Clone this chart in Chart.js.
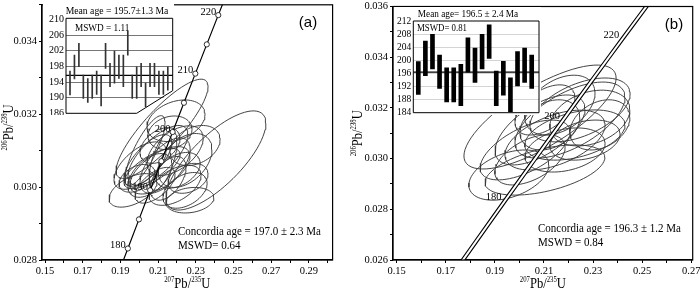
<!DOCTYPE html>
<html>
<head>
<meta charset="utf-8">
<script src="https://cdn.jsdelivr.net/npm/chart.js@4.4.1/dist/chart.umd.min.js"></script>
<style>
  body { margin: 0; background: #fff; }
  #wrap { position: relative; width: 700px; height: 290px; overflow: hidden; }
  canvas { position: absolute; }
</style>
</head>
<body>
<div id="wrap">
  <canvas id="diagramA" width="350" height="290" style="left:0;top:0"></canvas>
  <canvas id="diagramB" width="350" height="290" style="left:350px;top:0"></canvas>
  <canvas id="insetA" width="131" height="111"
    style="left:43px;top:4px;clip-path:polygon(0 0,131px 0,131px 87px,93px 111px,0 111px)"></canvas>
  <canvas id="insetB" width="147" height="108" style="left:394px;top:7px"></canvas>
</div>
<script>
const SERIF = "'Liberation Serif', 'Times New Roman', serif";
const SANS = "'Liberation Sans', Arial, sans-serif";

// concordia curve: age (Ma), 207Pb/235U, 206Pb/238U
const concordiaAges = [165, 170, 175, 180, 185, 190, 195, 200, 205, 210, 215, 220, 225, 230];
const concordia207 = [0.17645, 0.18226, 0.18809, 0.19396, 0.19985, 0.20577, 0.21173,
                      0.21771, 0.22372, 0.22976, 0.23583, 0.24193, 0.24806, 0.25422];
const concordia206 = [0.025926, 0.026722, 0.027519, 0.028316, 0.029114, 0.029913, 0.030711,
                      0.031511, 0.032312, 0.033112, 0.033914, 0.034717, 0.035519, 0.036323];
const markerAgesA = [180, 185, 190, 195, 200, 205, 210, 215, 220];
const labelAgesA = [180, 190, 200, 210, 220];
const labelAgesB = [180, 200, 220];

// axes
const xTicksA = [0.15, 0.16, 0.17, 0.18, 0.19, 0.20, 0.21, 0.22, 0.23, 0.24, 0.25, 0.26, 0.27, 0.28, 0.29, 0.30];
const xLabelsA = [0.15, 0.17, 0.19, 0.21, 0.23, 0.25, 0.27, 0.29];
const yTicksA = [0.028, 0.029, 0.030, 0.031, 0.032, 0.033, 0.034, 0.035];
const yLabelsA = [0.028, 0.030, 0.032, 0.034];
const xTicksB = [0.15, 0.16, 0.17, 0.18, 0.19, 0.20, 0.21, 0.22, 0.23, 0.24, 0.25, 0.26, 0.27];
const xLabelsB = [0.15, 0.17, 0.19, 0.21, 0.23, 0.25, 0.27];
const yTicksB = [0.026, 0.027, 0.028, 0.029, 0.030, 0.031, 0.032, 0.033, 0.034, 0.035, 0.036];
const yLabelsB = [0.026, 0.028, 0.030, 0.032, 0.034, 0.036];
const xTitle = [['207', true], ['Pb/', false], ['235', true], ['U', false]];
const yTitle = [['206', true], ['Pb/', false], ['238', true], ['U', false]];

// error ellipses (a): centre, 2 sigma half-widths, error correlation
const ellAx = [0.2121, 0.2407, 0.2195, 0.2163, 0.1967, 0.2269, 0.2004, 0.2099, 0.2137, 0.2057, 0.2190,
               0.2243, 0.2084, 0.2153, 0.2110, 0.2296, 0.2031, 0.2206, 0.2068, 0.2126, 0.2259, 0.1988,
               0.2190, 0.2110, 0.2243, 0.2046];
const ellAy = [0.03160, 0.03073, 0.03182, 0.03149, 0.02991, 0.02964, 0.03059, 0.03087, 0.03059, 0.03032, 0.03100,
               0.03073, 0.03005, 0.03024, 0.03114, 0.03114, 0.03100, 0.03046, 0.03051, 0.03073, 0.03024, 0.03024,
               0.03005, 0.03046, 0.02991, 0.03073];
const ellAsx = [0.0244, 0.0265, 0.0154, 0.0117, 0.0127, 0.0127, 0.0138, 0.0159, 0.0133, 0.0117, 0.0149,
                0.0143, 0.0106, 0.0095, 0.0106, 0.0133, 0.0106, 0.0117, 0.0149, 0.0074, 0.0106, 0.0095,
                0.0138, 0.0159, 0.0117, 0.0127];
const ellAsy = [0.00136, 0.00136, 0.00057, 0.00046, 0.00046, 0.00035, 0.00065, 0.00082, 0.00076, 0.00060, 0.00068,
                0.00074, 0.00049, 0.00060, 0.00049, 0.00055, 0.00096, 0.00049, 0.00055, 0.00082, 0.00041, 0.00038,
                0.00055, 0.00065, 0.00049, 0.00071];
const ellArho = [0.85, 0.75, 0.3, 0.2, 0.5, 0.2, 0.6, 0.7, 0.6, 0.5, 0.5,
                 0.4, 0.6, 0.5, 0.4, 0.3, 0.8, 0.4, 0.7, 0.6, 0.3, 0.4,
                 0.5, 0.6, 0.4, 0.7];

// error ellipses (b)
const ellBx = [0.2084, 0.1957, 0.2104, 0.2247, 0.2206, 0.2287, 0.2145, 0.2084, 0.2165,
               0.2023, 0.2226, 0.2124, 0.2328, 0.2043, 0.2186, 0.2104, 0.2267];
const ellBy = [0.03164, 0.02935, 0.02955, 0.03192, 0.03152, 0.03160, 0.03073, 0.03113, 0.03211,
               0.03034, 0.03093, 0.03133, 0.03133, 0.02995, 0.03034, 0.03192, 0.03073];
const ellBsx = [0.0310, 0.0163, 0.0244, 0.0204, 0.0224, 0.0163, 0.0204, 0.0183, 0.0143,
                0.0183, 0.0204, 0.0122, 0.0122, 0.0143, 0.0163, 0.0122, 0.0143];
const ellBsy = [0.00205, 0.00099, 0.00099, 0.00126, 0.00150, 0.00110, 0.00118, 0.00138, 0.00118,
                0.00118, 0.00099, 0.00099, 0.00099, 0.00099, 0.00087, 0.00099, 0.00079];
const ellBrho = [0.75, 0.4, 0.5, 0.5, 0.6, 0.3, 0.5, 0.6, 0.4,
                 0.6, 0.4, 0.3, 0.3, 0.5, 0.3, 0.5, 0.3];

// weighted mean insets: 206Pb/238U age error bars (Ma)
const ageLowA = [190.7, 194.8, 197.9, 189.8, 188.8, 189.8, 190.8, 187.9, 197.5, 192.8, 193.7, 194.9,
                 192.8, 200.9, 189.8, 189.8, 192.8, 187.7, 192.8, 192.8, 190.8, 190.8, 191.9];
const ageHighA = [196.8, 200.9, 203.9, 195.8, 194.9, 195.8, 196.8, 195.8, 203.9, 198.8, 201.9, 200.9,
                  200.9, 207.0, 195.8, 197.9, 198.8, 193.7, 198.8, 198.8, 196.8, 196.8, 197.9];
const ageTicksA = [186, 190, 194, 198, 202, 206, 210];
const meanAgeA = 195.7;
const ageLowB = [189.6, 195.4, 197.5, 191.5, 187.3, 187.3, 186.2, 196.5, 193.3,
                 197.5, 200.7, 186.2, 189.4, 184.3, 192.2, 193.3, 191.5];
const ageHighB = [199.7, 206.0, 208.1, 201.7, 197.8, 197.8, 198.9, 207.0, 203.9,
                  208.1, 211.0, 196.8, 199.8, 194.7, 202.8, 203.9, 201.7];
const ageTicksB = [184, 188, 192, 196, 200, 204, 208, 212];
const meanAgeB = 196.5;

function curvePoints(ages) {
  return ages.map(age => {
    const i = concordiaAges.indexOf(age);
    return { x: concordia207[i], y: concordia206[i] };
  });
}

// outline of an error ellipse from its centre, half-widths and correlation
function ellipsePoints(cx, cy, sx, sy, rho) {
  const pts = [];
  const k = Math.sqrt(1 - rho * rho);
  for (let i = 0; i <= 72; i++) {
    const t = i / 72 * 2 * Math.PI;
    pts.push({ x: cx + sx * Math.cos(t), y: cy + sy * (rho * Math.cos(t) + k * Math.sin(t)) });
  }
  return pts;
}

function squeezed(ctx, text, x, y, size, align) {
  ctx.save();
  ctx.font = size + 'px ' + SERIF;
  ctx.textAlign = align;
  ctx.textBaseline = 'middle';
  ctx.fillStyle = '#000';
  ctx.translate(x, y);
  ctx.scale(0.88, 1);
  ctx.fillText(text, 0, 0);
  ctx.restore();
}

// isotope ratio title with small raised mass numbers, centred on (cx, cy)
function isotopeTitle(ctx, parts, cx, cy, angle) {
  const big = '14px ' + SERIF, small = '7.5px ' + SERIF;
  ctx.save();
  ctx.translate(cx, cy);
  ctx.rotate(angle);
  ctx.scale(0.9, 1);
  ctx.fillStyle = '#000';
  ctx.textBaseline = 'alphabetic';
  ctx.textAlign = 'left';
  const widths = parts.map(p => { ctx.font = p[1] ? small : big; return ctx.measureText(p[0]).width; });
  let x = -widths.reduce((s, w) => s + w, 0) / 2;
  parts.forEach((p, i) => {
    ctx.font = p[1] ? small : big;
    ctx.fillText(p[0], x, p[1] ? -1 : 5);
    x += widths[i];
  });
  ctx.restore();
}

function axis(min, max, ticks, labels, digits, fit) {
  return {
    type: 'linear', min, max,
    afterBuildTicks: s => { s.ticks = ticks.map(v => ({ value: v })); },
    afterFit: fit,
    ticks: {
      autoSkip: false, maxRotation: 0, color: '#000', padding: 2,
      font: { family: SERIF, size: 10.5 },
      callback: v => labels.includes(v) ? v.toFixed(digits) : ''
    },
    grid: { drawOnChartArea: false, tickLength: 3, color: '#000', lineWidth: 1 },
    border: { color: '#000', width: 1.2 }
  };
}

function makeDiagram(id, cfg) {
  const ellipses = cfg.ex.map((cx, i) => ({
    data: ellipsePoints(cx, cfg.ey[i], cfg.esx[i], cfg.esy[i], cfg.erho[i]),
    showLine: true, pointRadius: 0, borderColor: '#3a3a3a', borderWidth: 0.95, tension: 0
  }));

  return new Chart(document.getElementById(id), {
    type: 'scatter',
    data: { datasets: cfg.curve.concat(ellipses) },
    options: {
      responsive: false, animation: false, events: [],
      layout: { padding: cfg.padding },
      plugins: { legend: { display: false }, tooltip: { enabled: false } },
      scales: {
        x: axis(cfg.xMin, cfg.xMax, cfg.xTicks, cfg.xLabels, 2,
          s => { s.height = 30; s.paddingLeft = 0; s.paddingRight = 0; }),
        y: axis(cfg.yMin, cfg.yMax, cfg.yTicks, cfg.yLabels, 3,
          s => { s.width = cfg.yWidth; s.paddingTop = 0; s.paddingBottom = 0; })
      }
    },
    plugins: [{
      id: 'frame',
      afterDatasetsDraw(chart) {
        const { ctx, chartArea: a } = chart;
        ctx.save();
        ctx.strokeStyle = '#000';
        ctx.lineWidth = 1.2;
        ctx.strokeRect(a.left, a.top, a.right - a.left, a.bottom - a.top);

        const meta = chart.getDatasetMeta(cfg.lineIndex);
        ctx.font = '10.5px ' + SERIF;
        ctx.textAlign = 'right';
        ctx.textBaseline = 'middle';
        ctx.fillStyle = '#000';
        cfg.labelAges.forEach(age => {
          const el = meta.data[cfg.lineAges.indexOf(age)];
          ctx.fillText(String(age), el.x + cfg.labelShift[0], el.y + cfg.labelShift[1]);
        });

        cfg.notes.forEach(n => squeezed(ctx, n[0], n[1], n[2], 12.5, 'left'));

        ctx.font = '15px ' + SANS;
        ctx.textAlign = 'center';
        ctx.fillText(cfg.panel, cfg.panelPos[0], cfg.panelPos[1]);
        ctx.restore();

        isotopeTitle(ctx, xTitle, (a.left + a.right) / 2, 283, 0);
        isotopeTitle(ctx, yTitle, cfg.yTitleX, (a.top + a.bottom) / 2 + cfg.yTitleShift, -Math.PI / 2);
      }
    }]
  });
}

function makeInset(id, cfg) {
  return new Chart(document.getElementById(id), {
    type: 'bar',
    data: {
      datasets: [{
        data: cfg.low.map((lo, i) => ({ x: i + 1, y: [lo, cfg.high[i]] })),
        backgroundColor: cfg.barColor, barThickness: cfg.barWidth, borderWidth: 0
      }]
    },
    options: {
      responsive: false, animation: false, events: [],
      layout: { padding: cfg.padding },
      plugins: { legend: { display: false }, tooltip: { enabled: false } },
      scales: {
        x: { type: 'linear', min: cfg.xMin, max: cfg.xMax, offset: false, display: false },
        y: {
          min: cfg.yMin, max: cfg.yMax,
          afterBuildTicks: s => { s.ticks = cfg.yTicks.map(v => ({ value: v })); },
          afterFit: s => { s.width = cfg.axisWidth; s.paddingTop = 0; s.paddingBottom = 0; },
          ticks: { autoSkip: false, color: '#000', padding: 2, font: { family: SERIF, size: cfg.tickSize } },
          grid: {
            drawTicks: false, lineWidth: 1,
            color: c => (c.tick && c.tick.value > cfg.yTicks[0] && c.tick.value < cfg.yTicks[cfg.yTicks.length - 1])
              ? cfg.gridColor : 'rgba(0,0,0,0)'
          },
          border: { display: false }
        }
      }
    },
    plugins: [{
      id: 'insetFrame',
      beforeDraw(chart) {
        const ctx = chart.ctx;
        ctx.save();
        ctx.fillStyle = '#fff';
        ctx.fillRect(0, 0, chart.width, chart.height);
        ctx.restore();
      },
      beforeDatasetsDraw(chart) {
        const { ctx, chartArea: a } = chart;
        const y = chart.scales.y.getPixelForValue(cfg.mean);
        ctx.save();
        ctx.strokeStyle = '#000';
        ctx.lineWidth = 1.2;
        ctx.beginPath();
        ctx.moveTo(a.left, y);
        ctx.lineTo(a.right, y);
        ctx.stroke();
        ctx.restore();
      },
      afterDraw(chart) {
        const { ctx, chartArea: a } = chart;
        ctx.save();
        ctx.strokeStyle = '#000';
        ctx.lineWidth = 1;
        ctx.beginPath();
        ctx.moveTo(a.left, a.top);
        ctx.lineTo(a.right, a.top);
        ctx.lineTo(a.right, a.bottom - cfg.cut[1]);
        ctx.lineTo(a.right - cfg.cut[0], a.bottom);
        ctx.lineTo(a.left, a.bottom);
        ctx.closePath();
        ctx.stroke();
        ctx.restore();
        squeezed(ctx, cfg.title, cfg.titlePos[0], cfg.titlePos[1], cfg.titleSize, 'center');
        squeezed(ctx, cfg.mswd, cfg.mswdPos[0], cfg.mswdPos[1], cfg.titleSize - 0.5, 'left');
      }
    }]
  });
}

makeDiagram('diagramA', {
  curve: [
    { data: curvePoints(markerAgesA), showLine: false, pointRadius: 2.6,
      pointBackgroundColor: '#fff', pointBorderColor: '#000', pointBorderWidth: 0.8 },
    { data: curvePoints(concordiaAges), showLine: true, pointRadius: 0,
      borderColor: '#000', borderWidth: 1.2, tension: 0 }
  ],
  lineIndex: 1, lineAges: concordiaAges, labelAges: labelAgesA, labelShift: [-2, -3],
  ex: ellAx, ey: ellAy, esx: ellAsx, esy: ellAsy, erho: ellArho,
  xMin: 0.1484, xMax: 0.3026, xTicks: xTicksA, xLabels: xLabelsA,
  yMin: 0.028, yMax: 0.035, yTicks: yTicksA, yLabels: yLabelsA,
  yWidth: 42, yTitleX: 8, yTitleShift: -5, padding: { left: 0, top: 4, right: 17.4, bottom: 0 },
  notes: [['Concordia age = 197.0 ± 2.3 Ma', 178, 232], ['MSWD= 0.64', 178, 246]],
  panel: '(a)', panelPos: [308, 23]
});

makeDiagram('diagramB', {
  curve: [
    { data: curvePoints(concordiaAges), showLine: true, pointRadius: 0,
      borderColor: '#fff', borderWidth: 2, tension: 0 },
    { data: curvePoints(concordiaAges), showLine: true, pointRadius: 0,
      borderColor: '#000', borderWidth: 4.2, tension: 0 }
  ],
  lineIndex: 1, lineAges: concordiaAges, labelAges: labelAgesB, labelShift: [-3, -4],
  ex: ellBx, ey: ellBy, esx: ellBsx, esy: ellBsy, erho: ellBrho,
  xMin: 0.1485, xMax: 0.2706, xTicks: xTicksB, xLabels: xLabelsB,
  yMin: 0.026, yMax: 0.036, yTicks: yTicksB, yLabels: yLabelsB,
  yWidth: 43, yTitleX: 7, yTitleShift: 0, padding: { left: 0, top: 6.5, right: 7.3, bottom: 0 },
  notes: [['Concordia age = 196.3 ± 1.2 Ma', 188, 229], ['MSWD = 0.84', 188, 243]],
  panel: '(b)', panelPos: [324, 25]
});

makeInset('insetA', {
  low: ageLowA, high: ageHighA, barColor: '#333', barWidth: 1,
  xMin: 0.1, xMax: 24.1, yMin: 186, yMax: 210.3, yTicks: ageTicksA, mean: meanAgeA,
  axisWidth: 23, tickSize: 10, gridColor: '#777',
  padding: { left: 0, top: 14.3, right: 1.3, bottom: 1.7 },
  cut: [36, 22.6],
  title: 'Mean age = 195.7±1.3 Ma', titlePos: [74, 7], titleSize: 11,
  mswd: 'MSWD = 1.11', mswdPos: [32, 24.3]
});

makeInset('insetB', {
  low: ageLowB, high: ageHighB, barColor: '#000', barWidth: 4,
  xMin: 0.295, xMax: 18.03, yMin: 184, yMax: 212.2, yTicks: ageTicksB, mean: meanAgeB,
  axisWidth: 19.3, tickSize: 9.5, gridColor: '#d4d4d4',
  padding: { left: 0, top: 14, right: 2, bottom: 2.3 },
  cut: [0, 0],
  title: 'Mean age= 196.5 ± 2.4 Ma', titlePos: [74, 7], titleSize: 10.5,
  mswd: 'MSWD= 0.81', mswdPos: [23, 21.3]
});
</script>
</body>
</html>
